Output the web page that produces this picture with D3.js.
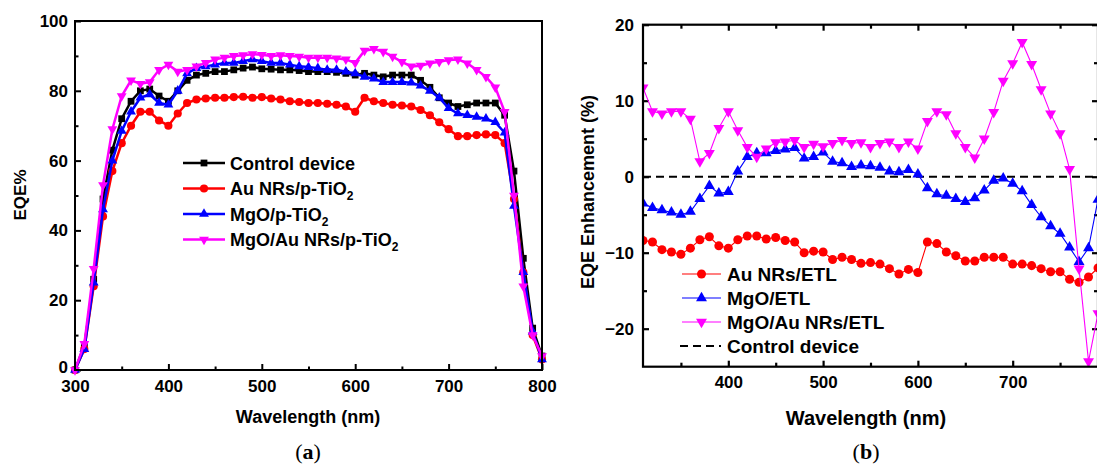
<!DOCTYPE html>
<html>
<head>
<meta charset="utf-8">
<script src="https://cdn.jsdelivr.net/npm/d3@7"></script>
<style>
  body { margin: 0; background: #fff; }
  svg text { font-family: Arial, "Liberation Sans", sans-serif; font-weight: bold; fill: #000; }
</style>
</head>
<body>
<div id="chart"></div>
<script>
// ---------- data, panel (a): EQE % ----------
const wlA = [300,310,320,330,340,350,360,370,380,390,400,410,420,430,440,450,460,470,480,490,
  500,510,520,530,540,550,560,570,580,590,600,610,620,630,640,650,660,670,680,690,
  700,710,720,730,740,750,760,770,780,790,800];
const controlA = [0,7,26,49,63,72,77,80,80.5,78.5,77,80,83,84.5,85,85.5,85.5,86,86.5,86.8,
  86.3,86.2,86,86,85.8,85.5,85.5,85.5,85.3,85,84.5,85,84.5,84,84.5,84.5,84.5,83,81,78,
  76.5,75.5,76,76.5,76.5,76.5,73,57,32,12,4];
const auA = [0,6,24,44,57,65,70,74,74,71.5,70,73.5,76.5,77.5,77.8,78,78,78.2,78.3,78,
  78.2,77.8,77.5,77,76.8,76.5,76.5,76.3,76,75.5,74,78,77,76.5,76,75.8,75.5,74.5,73,71,
  69,67,67,67.3,67.5,67.3,65,49,28,10,3];
const mgoA = [0,6,25,46,60,68.5,74,78,79,76.5,76,80,85,86.5,87,87.5,88,88,88.5,89,
  88.5,88,88,87.5,87,86.8,86.5,86,86,85.5,85,84,83.5,82.5,82.5,82.5,82.3,81.5,80,78,
  75,73.5,73,72.5,72,71,68,47,28,11,3];
const mgoAuA = [0,7.5,29,53,69,78.5,83,82,82.5,86,87.5,85.5,86,87,88,89,89.5,90,90.2,90.5,
  90.3,90,90.2,90,89.8,89.5,89.5,89.5,89.3,89,88,91.5,92,91.2,89.8,88.3,87,87.2,87.9,88.3,
  88.8,89,87.9,86,84,81,74,50,24,10,4];
const yTicksA = [0,20,40,60,80,100];
const xTicksA = [300,400,500,600,700,800];

// ---------- data, panel (b): EQE enhancement % ----------
const wlB = [310,320,330,340,350,360,370,380,390,400,410,420,430,440,450,460,470,480,490,
  500,510,520,530,540,550,560,570,580,590,600,610,620,630,640,650,660,670,680,690,
  700,710,720,730,740,750,760,770,780,790];
const auB = [-8.4,-8.6,-9.6,-9.9,-10.2,-9.4,-8.3,-7.9,-9.1,-9.4,-8.3,-7.8,-7.8,-8.2,-8.0,-8.4,-8.6,-10.0,-9.8,
  -9.9,-10.9,-10.6,-10.9,-11.4,-11.3,-11.5,-12.1,-12.8,-12.2,-12.6,-8.6,-8.8,-9.9,-10.4,-11.1,-11.1,-10.6,-10.6,-10.6,
  -11.5,-11.5,-11.7,-12.1,-12.5,-12.5,-13.5,-13.9,-13.2,-12];
const mgoB = [-3.5,-4.1,-4.4,-4.7,-5.0,-4.6,-2.9,-1.2,-2.2,-2.0,0.7,2.6,3.1,3.1,3.4,3.6,3.8,2.4,2.6,
  3.2,2.0,1.8,1.3,1.5,1.4,1.2,0.7,0.6,0.9,0.3,-1.5,-2.3,-2.5,-2.9,-3.3,-2.8,-1.8,-0.5,-0.2,
  -0.9,-1.9,-3.7,-5.3,-6.5,-7.5,-9.3,-11.2,-9.4,-3];
const mgoAuB = [11.7,8.6,8.3,8.6,8.6,7.6,2.0,3.1,6.4,8.6,6.1,3.9,2.6,3.7,4.5,4.6,4.8,3.9,4.3,
  4.0,4.4,4.8,4.4,4.5,3.9,4.4,4.6,3.9,4.6,3.7,7.3,8.6,8.2,5.7,3.9,2.5,5.0,8.5,12.6,
  14.9,17.7,14.8,11.5,8.3,5.7,1.0,-12.1,-24.3,-18];
const yTicksB = [-20,-10,0,10,20];
const xTicksB = [400,500,600,700];

const W = 1097, H = 466;
const svg = d3.select("#chart").append("svg")
  .attr("width", W).attr("height", H);
svg.append("rect").attr("width", W).attr("height", H).attr("fill", "#fff");

// marker helper
function marker(g, shape, x, y, color, size) {
  let sym;
  if (shape === "square") sym = d3.symbol(d3.symbolSquare, size);
  else if (shape === "circle") sym = d3.symbol(d3.symbolCircle, size);
  else sym = d3.symbol(d3.symbolTriangle, size);
  const rot = shape === "down" ? " rotate(180)" : "";
  return g.append("path").attr("d", sym())
    .attr("transform", "translate(" + x + "," + y + ")" + rot)
    .attr("fill", color);
}

// ================= panel (a) =================
const xA = d3.scaleLinear().domain([300, 800]).range([75, 542]);
const yA = d3.scaleLinear().domain([0, 100]).range([370, 21]);
const gA = svg.append("g");

// ticks inward, left + bottom
gA.append("g").attr("transform", "translate(75,0)")
  .call(d3.axisLeft(yA).tickValues(yTicksA).tickSize(-6).tickPadding(7))
  .call(g => g.select(".domain").remove())
  .call(g => g.selectAll("line").attr("stroke-width", 2))
  .call(g => g.selectAll("text").attr("font-size", 17).attr("font-family", null))
  // nudge the "0" up so it clears the "300" below it
  .call(g => g.selectAll("text").filter(d => d === 0).attr("y", -3));
gA.append("g").attr("transform", "translate(75,0)")
  .call(d3.axisLeft(yA).tickValues([10,30,50,70,90]).tickSize(-3.5).tickFormat(""))
  .call(g => g.select(".domain").remove())
  .call(g => g.selectAll("line").attr("stroke-width", 2));
gA.append("g").attr("transform", "translate(0,370)")
  .call(d3.axisBottom(xA).tickValues(xTicksA).tickSize(-6).tickPadding(10))
  .call(g => g.select(".domain").remove())
  .call(g => g.selectAll("line").attr("stroke-width", 2))
  .call(g => g.selectAll("text").attr("font-size", 17).attr("font-family", null));
gA.append("g").attr("transform", "translate(0,370)")
  .call(d3.axisBottom(xA).tickValues([350,450,550,650,750]).tickSize(-3.5).tickFormat(""))
  .call(g => g.select(".domain").remove())
  .call(g => g.selectAll("line").attr("stroke-width", 2));

const seriesA = [
  {name: "Control device", sub: false, vals: controlA, color: "#000000", shape: "square", size: 46},
  {name: "Au NRs/p-TiO", sub: true, vals: auA, color: "#ff0000", shape: "circle", size: 52},
  {name: "MgO/p-TiO", sub: true, vals: mgoA, color: "#0000ff", shape: "up", size: 42},
  {name: "MgO/Au NRs/p-TiO", sub: true, vals: mgoAuA, color: "#ff00ff", shape: "down", size: 42}
];

const lineA = d3.line().x(d => xA(d[0])).y(d => yA(d[1]));
seriesA.forEach(s => {
  const pts = wlA.map((w, i) => [w, s.vals[i]]);
  gA.append("path").datum(pts).attr("d", lineA)
    .attr("fill", "none").attr("stroke", s.color).attr("stroke-width", 2.5);
  pts.forEach(p => marker(gA, s.shape, xA(p[0]), yA(p[1]), s.color, s.size));
});

gA.append("rect").attr("x", 75).attr("y", 21).attr("width", 467).attr("height", 349)
  .attr("fill", "none").attr("stroke", "#000").attr("stroke-width", 2);

// legend (a)
seriesA.forEach((s, i) => {
  const y = 163 + i * 25.5;
  gA.append("line").attr("x1", 183).attr("x2", 225).attr("y1", y).attr("y2", y)
    .attr("stroke", s.color).attr("stroke-width", 2.5);
  marker(gA, s.shape, 204, y, s.color, s.size);
  const t = gA.append("text").attr("x", 230).attr("y", y + 6.5).attr("font-size", 18);
  t.append("tspan").text(s.name);
  if (s.sub) t.append("tspan").attr("font-size", 12).attr("dy", 5).text("2");
});

gA.append("text").attr("transform", "translate(26,195) rotate(-90)")
  .attr("text-anchor", "middle").attr("font-size", 17).text("EQE%");
gA.append("text").attr("x", 308).attr("y", 423).attr("text-anchor", "middle")
  .attr("font-size", 18).text("Wavelength (nm)");
const labA = gA.append("text").attr("x", 308).attr("y", 459).attr("text-anchor", "middle")
  .attr("font-size", 22).style("font-family", "'Liberation Serif', 'DejaVu Serif', serif").style("font-weight", "normal");
labA.append("tspan").text("(");
labA.append("tspan").style("font-weight", "bold").text("a");
labA.append("tspan").text(")");

// ================= panel (b) =================
const xB = d3.scaleLinear().domain([310, 790]).range([643, 1098]);
const yB = d3.scaleLinear().domain([-25, 20]).range([366.7, 24.7]);
const gB = svg.append("g");

svg.append("clipPath").attr("id", "clipB").append("rect")
  .attr("x", 643).attr("y", 24.7).attr("width", 455).attr("height", 342);

// inward ticks on all four sides, labels only left and bottom
function tickAxis(axis, tr, values, len, labels) {
  gB.append("g").attr("transform", tr)
    .call(axis.tickValues(values).tickSize(-len).tickPadding(labels ? 9 : 0)
      .tickFormat(labels ? d3.format("d") : ""))
    .call(g => g.select(".domain").remove())
    .call(g => g.selectAll("line").attr("stroke-width", 2.2))
    .call(g => g.selectAll("text").attr("font-size", 17).attr("font-family", null));
}
const minorXB = [350,450,550,650,750], minorYB = [-15,-5,5,15];
tickAxis(d3.axisLeft(yB), "translate(643,0)", yTicksB, 6, true);
tickAxis(d3.axisLeft(yB), "translate(643,0)", minorYB, 4, false);
tickAxis(d3.axisRight(yB), "translate(1098,0)", yTicksB, 6, false);
tickAxis(d3.axisRight(yB), "translate(1098,0)", minorYB, 4, false);
tickAxis(d3.axisBottom(xB), "translate(0,366.7)", xTicksB, 6, true);
tickAxis(d3.axisBottom(xB), "translate(0,366.7)", minorXB, 4, false);
tickAxis(d3.axisTop(xB), "translate(0,24.7)", xTicksB, 6, false);
tickAxis(d3.axisTop(xB), "translate(0,24.7)", minorXB, 4, false);

const plotB = gB.append("g").attr("clip-path", "url(#clipB)");
// control device baseline
plotB.append("line").attr("x1", 643).attr("x2", 1098).attr("y1", yB(0)).attr("y2", yB(0))
  .attr("stroke", "#000").attr("stroke-width", 2).attr("stroke-dasharray", "8,5");

const seriesB = [
  {name: "Au NRs/ETL", vals: auB, color: "#ff0000", shape: "circle", size: 64},
  {name: "MgO/ETL", vals: mgoB, color: "#0000ff", shape: "up", size: 52},
  {name: "MgO/Au NRs/ETL", vals: mgoAuB, color: "#ff00ff", shape: "down", size: 52}
];
const lineB = d3.line().x(d => xB(d[0])).y(d => yB(d[1]));
seriesB.forEach(s => {
  const pts = wlB.map((w, i) => [w, s.vals[i]]);
  plotB.append("path").datum(pts).attr("d", lineB)
    .attr("fill", "none").attr("stroke", s.color).attr("stroke-width", 1.1);
  pts.forEach(p => marker(plotB, s.shape, xB(p[0]), yB(p[1]), s.color, s.size));
});

gB.append("rect").attr("x", 643).attr("y", 24.7).attr("width", 455).attr("height", 342)
  .attr("fill", "none").attr("stroke", "#000").attr("stroke-width", 2.2);

// legend (b)
seriesB.forEach((s, i) => {
  const y = 274 + i * 24;
  gB.append("line").attr("x1", 682).attr("x2", 721).attr("y1", y).attr("y2", y)
    .attr("stroke", s.color).attr("stroke-width", 1.1);
  marker(gB, s.shape, 701.5, y, s.color, s.size);
  gB.append("text").attr("x", 727).attr("y", y + 7).attr("font-size", 19).text(s.name);
});
gB.append("line").attr("x1", 680).attr("x2", 721).attr("y1", 346).attr("y2", 346)
  .attr("stroke", "#000").attr("stroke-width", 2).attr("stroke-dasharray", "8,5");
gB.append("text").attr("x", 727).attr("y", 353).attr("font-size", 19).text("Control device");

gB.append("text").attr("transform", "translate(594,192) rotate(-90)")
  .attr("text-anchor", "middle").attr("font-size", 18).text("EQE Enhancement (%)");
gB.append("text").attr("x", 866).attr("y", 425).attr("text-anchor", "middle")
  .attr("font-size", 20).text("Wavelength (nm)");
const labB = gB.append("text").attr("x", 866).attr("y", 459).attr("text-anchor", "middle")
  .attr("font-size", 22).style("font-family", "'Liberation Serif', 'DejaVu Serif', serif").style("font-weight", "normal");
labB.append("tspan").text("(");
labB.append("tspan").style("font-weight", "bold").text("b");
labB.append("tspan").text(")");
</script>
</body>
</html>
